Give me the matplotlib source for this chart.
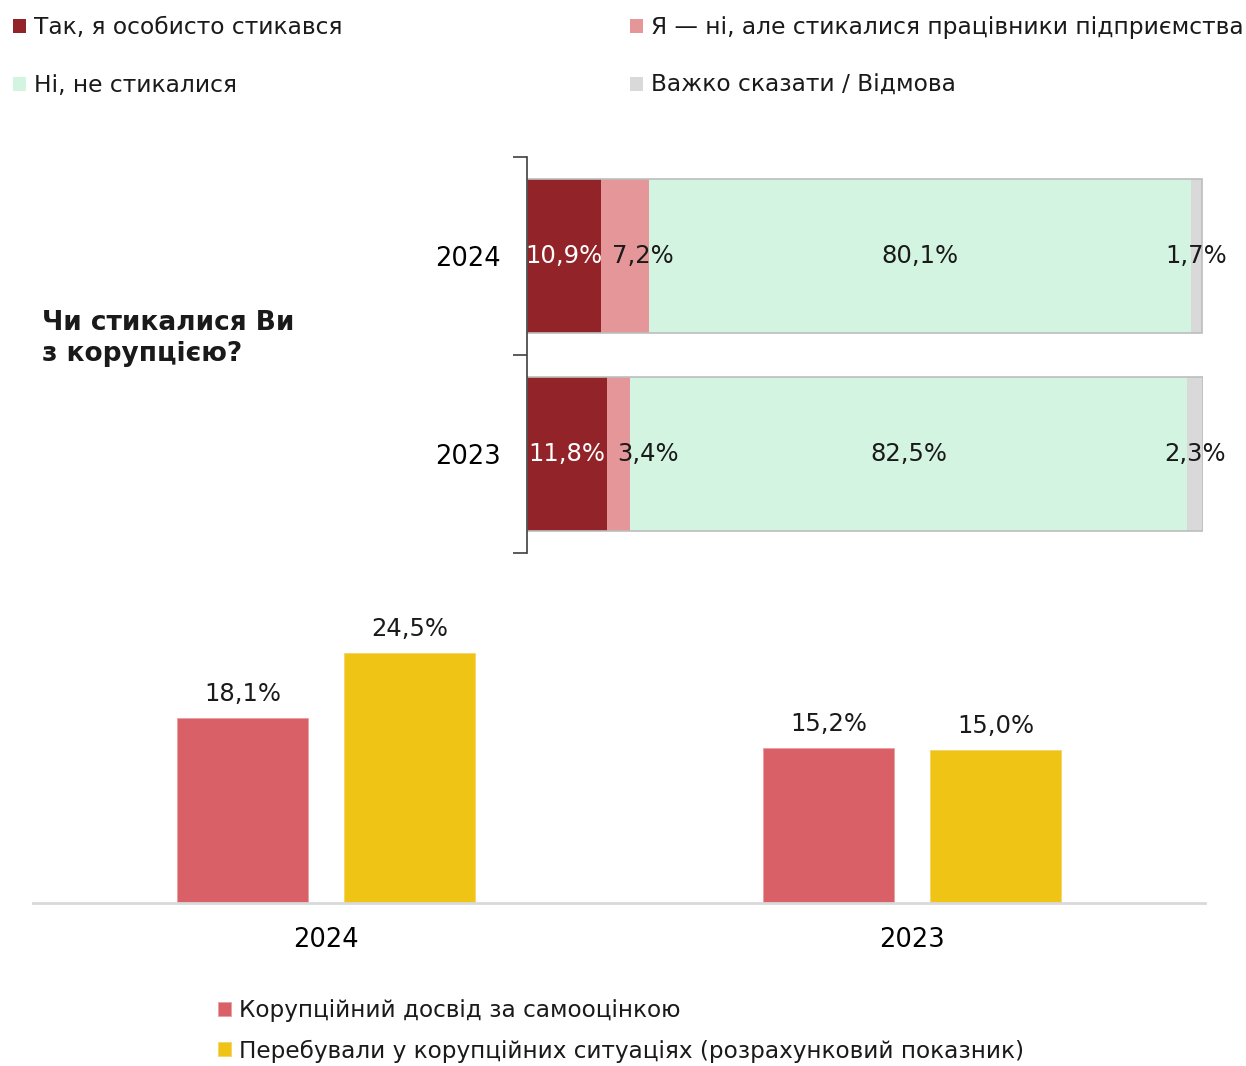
import matplotlib
matplotlib.use('Agg')
import matplotlib.pyplot as plt

plt.rcParams['font.family'] = ['DejaVu Sans']
plt.rcParams['text.color'] = '#1a1a1a'

W, H = 1246, 1066

# stacked answers by year
years = ['2024', '2023']
series_names = ['Так, я особисто стикався',
                'Я — ні, але стикалися працівники підприємства',
                'Ні, не стикалися',
                'Важко сказати / Відмова']
personal = [10.9, 11.8]
staff = [7.2, 3.4]
never = [80.1, 82.5]
hard_to_say = [1.7, 2.3]
stack_colors = ['#922328', '#E59698', '#D4F4E2', '#D9D9D9']

# grouped indicators
groups = ['2024', '2023']
self_rated = [18.1, 15.2]
estimated = [24.5, 15.0]
indicator_names = ['Корупційний досвід за самооцінкою',
                   'Перебували у корупційних ситуаціях (розрахунковий показник)']


def pct(v):
    return f'{v:.1f}%'.replace('.', ',')


fig = plt.figure(figsize=(W / 100, H / 100), dpi=100)

# ---- top: stacked horizontal bars
ax1 = fig.add_axes([527 / W, 1 - 553 / H, 676 / W, 396 / H])
ypos = [1, 0]
bh = 0.78
left = [0, 0]
handles = []
for vals, col, name in zip([personal, staff, never, hard_to_say], stack_colors, series_names):
    b = ax1.barh(ypos, vals, left=left, height=bh, color=col, edgecolor='none', label=name)
    handles.append(b)
    for y, l, v in zip(ypos, left, vals):
        if col == stack_colors[0]:
            ax1.text(l + v / 2, y, pct(v), ha='center', va='center', color='white', fontsize=17.5)
        elif col == stack_colors[1]:
            ax1.text(l + 1.6, y, pct(v), ha='left', va='center', fontsize=17.5)
        else:
            ax1.text(l + v / 2, y, pct(v), ha='center', va='center', fontsize=17.5)
    left = [a + b_ for a, b_ in zip(left, vals)]
# thin grey outline around each full bar
ax1.barh(ypos, left, height=bh, facecolor='none', edgecolor='#BDBDBD', lw=1.2)

ax1.set_xlim(0, 100)
ax1.set_ylim(-0.5, 1.5)
for s in ['top', 'right', 'bottom']:
    ax1.spines[s].set_visible(False)
ax1.spines['left'].set_color('#404040')
ax1.spines['left'].set_linewidth(1.2)
ax1.set_xticks([])
ax1.set_yticks([-0.5, 0.5, 1.5])
ax1.set_yticklabels([])
ax1.tick_params(axis='y', which='major', length=10, width=1.2, color='#404040')
ax1.set_yticks(ypos, minor=True)
ax1.set_yticklabels(years, minor=True, fontsize=18.5)
ax1.tick_params(axis='y', which='minor', length=0, pad=19)

fig.text(42 / W, 1 - 338 / H, 'Чи стикалися Ви\nз корупцією?', ha='left', va='center',
         fontsize=19, fontweight='bold', linespacing=1.25)

# top legends, two columns
leg_kw = dict(frameon=False, fontsize=16.8, handlelength=0.55, handleheight=0.55,
              handletextpad=0.35, labelspacing=1.5, borderaxespad=0, borderpad=0)
l1 = fig.legend([handles[0], handles[2]], [series_names[0], series_names[2]],
                loc='upper left', bbox_to_anchor=(13 / W, 1 - 16 / H), **leg_kw)
l2 = fig.legend([handles[1], handles[3]], [series_names[1], series_names[3]],
                loc='upper left', bbox_to_anchor=(630 / W, 1 - 16 / H), **leg_kw)

# ---- bottom: grouped vertical bars
ax2 = fig.add_axes([33 / W, 1 - 903 / H, 1172 / W, 313 / H])
x = range(len(groups))
bw = 0.224
off = 0.1425
b1 = ax2.bar([i - off for i in x], self_rated, width=bw, color='#D86066', edgecolor='#E8A0A3', lw=0.6)
b2 = ax2.bar([i + off for i in x], estimated, width=bw, color='#F0C414', edgecolor='#F3D46A', lw=0.6)
ax2.bar_label(b1, labels=[pct(v) for v in self_rated], padding=9, fontsize=17.5)
ax2.bar_label(b2, labels=[pct(v) for v in estimated], padding=9, fontsize=17.5)

ax2.set_xlim(-0.5, 1.5)
ax2.set_ylim(0, 30.7)
for s in ['top', 'right', 'left']:
    ax2.spines[s].set_visible(False)
ax2.spines['bottom'].set_color('#D9D9D9')
ax2.spines['bottom'].set_linewidth(2)
ax2.set_yticks([])
ax2.set_xticks(list(x))
ax2.set_xticklabels(groups, fontsize=18.5)
ax2.tick_params(axis='x', length=0, pad=17)

fig.legend([b1, b2], indicator_names, loc='upper left', bbox_to_anchor=(218 / W, 1 - 999 / H),
           frameon=False, fontsize=16.7, handlelength=0.55, handleheight=0.55,
           handletextpad=0.35, labelspacing=0.75, borderaxespad=0, borderpad=0)

fig.savefig('out.png', dpi=100)
